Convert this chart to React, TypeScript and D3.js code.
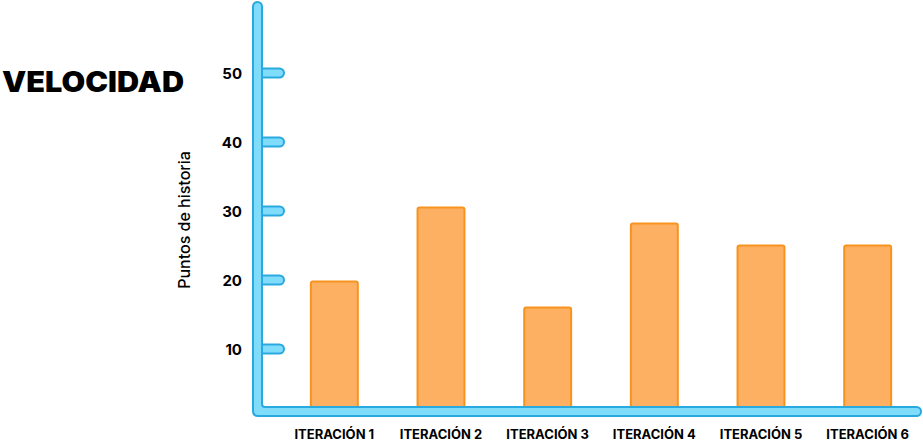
import * as d3 from 'd3';
import { useEffect, useRef } from 'react';

const categories = ['ITERACIÓN 1', 'ITERACIÓN 2', 'ITERACIÓN 3', 'ITERACIÓN 4', 'ITERACIÓN 5', 'ITERACIÓN 6'];
const storyPoints = [19.8, 30.5, 16, 28.2, 25, 25];
const yTicks = [10, 20, 30, 40, 50];

const width = 923;
const height = 444;
const axisFill = '#80dcfb';
const axisStroke = '#2aa9e0';
const barFill = '#fdb061';
const barStroke = '#f7931e';

export default function App() {
    const svgRef = useRef(null);

    useEffect(() => {
        const svg = d3.select(svgRef.current);
        svg.selectAll('*').remove();

        // y scale: 0 sits just under the bottom bar
        const y = d3.scaleLinear().domain([0, 50]).range([418, 73]);
        const x = d3
            .scaleBand()
            .domain(categories)
            .range([281, 921])
            .paddingInner(0.56)
            .paddingOuter(0.28);

        const fontLabel = "Inter, 'Noto Sans', sans-serif";

        // title
        svg.append('text')
            .attr('x', 2)
            .attr('y', 92)
            .attr('font-family', fontLabel)
            .attr('font-weight', 900)
            .attr('font-size', 28)
            .attr('textLength', 182)
            .attr('lengthAdjust', 'spacingAndGlyphs')
            .attr('fill', '#000')
            .text('VELOCIDAD');

        // bars
        svg.append('g')
            .selectAll('rect')
            .data(storyPoints)
            .join('rect')
            .attr('x', (d, i) => x(categories[i]))
            .attr('y', (d) => y(d))
            .attr('width', x.bandwidth())
            .attr('height', (d) => 411 - y(d))
            .attr('rx', 2)
            .attr('fill', barFill)
            .attr('stroke', barStroke)
            .attr('stroke-width', 2);

        // tick nubs
        svg.append('g')
            .selectAll('path')
            .data(yTicks)
            .join('path')
            .attr('d', (d) => {
                const cy = y(d);
                return `M258,${cy - 4.5} H279.5 A4.5,4.5 0 0 1 279.5,${cy + 4.5} H258 Z`;
            })
            .attr('fill', axisFill)
            .attr('stroke', axisStroke)
            .attr('stroke-width', 2);

        // L-shaped axis
        svg.append('path')
            .attr(
                'd',
                'M253,6.5 A4.5,4.5 0 0 1 262,6.5 V404 Q262,407 265,407 H916.5 A4.5,4.5 0 0 1 916.5,416 H258 Q253,416 253,411 Z'
            )
            .attr('fill', axisFill)
            .attr('stroke', axisStroke)
            .attr('stroke-width', 2);

        // tick labels
        svg.append('g')
            .selectAll('text')
            .data(yTicks)
            .join('text')
            .attr('x', 242)
            .attr('y', (d) => y(d) + 5.5)
            .attr('text-anchor', 'end')
            .attr('font-family', fontLabel)
            .attr('font-weight', 700)
            .attr('font-size', 15)
            .attr('fill', '#000')
            .text((d) => d);

        // category labels
        svg.append('g')
            .selectAll('text')
            .data(categories)
            .join('text')
            .attr('x', (d) => x(d) + x.bandwidth() / 2)
            .attr('y', 439)
            .attr('text-anchor', 'middle')
            .attr('font-family', fontLabel)
            .attr('font-weight', 700)
            .attr('font-size', 13)
            .attr('fill', '#000')
            .text((d) => d);

        // y axis title
        svg.append('text')
            .attr('transform', 'translate(190,220) rotate(-90)')
            .attr('text-anchor', 'middle')
            .attr('font-family', fontLabel)
            .attr('font-weight', 500)
            .attr('font-size', 16)
            .attr('fill', '#000')
            .text('Puntos de historia');
    }, []);

    return (
        <svg
            ref={svgRef}
            width={width}
            height={height}
            style={{ position: 'absolute', left: 0, top: 0, background: '#fff' }}
        />
    );
}
